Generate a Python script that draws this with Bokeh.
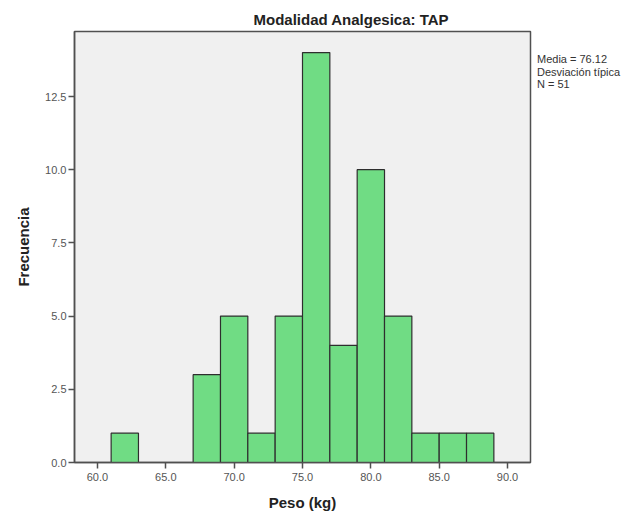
from bokeh.plotting import figure
from bokeh.models import Range1d, FixedTicker, NumeralTickFormatter, Div
from bokeh.layouts import row
from bokeh.embed import file_html
from bokeh.resources import INLINE

bin_left = [61, 63, 65, 67, 69, 71, 73, 75, 77, 79, 81, 83, 85, 87]
bin_right = [63, 65, 67, 69, 71, 73, 75, 77, 79, 81, 83, 85, 87, 89]
counts = [1, 0, 0, 3, 5, 1, 5, 14, 4, 10, 5, 1, 1, 1]
x_ticks = [60, 65, 70, 75, 80, 85, 90]
y_ticks = [0, 2.5, 5, 7.5, 10, 12.5]
title_text = "Modalidad Analgesica: TAP"
stats_lines = ["Media = 76.12", "Desviación típica", "N = 51"]

FONT = "Liberation Sans"

p = figure(width=537, height=519, output_backend="svg", toolbar_location=None,
           x_range=Range1d(58.32, 91.68), y_range=Range1d(0, 14.72),
           min_border_left=74, min_border_right=7, min_border_top=31, min_border_bottom=57,
           title=title_text)
p.background_fill_color = "#f0f0f0"
p.border_fill_color = "white"
p.outline_line_color = "#505050"
p.outline_line_width = 1.5
p.grid.visible = False

p.title.align = "left"
p.title.offset = 179
p.title.standoff = 8
p.title.text_font = FONT
p.title.text_font_size = "15px"
p.title.text_font_style = "bold"
p.title.text_color = "#222222"

bars = [(l, r, c) for l, r, c in zip(bin_left, bin_right, counts) if c > 0]
p.quad(left=[b[0] for b in bars], right=[b[1] for b in bars], bottom=0, top=[b[2] for b in bars],
       fill_color="#70dc84", line_color="#2e2e2e", line_width=1.2)

for ax in (p.xaxis[0], p.yaxis[0]):
    ax.major_label_text_font = FONT
    ax.major_label_text_font_size = "11px"
    ax.major_label_text_color = "#555555"
    ax.axis_label_text_font = FONT
    ax.axis_label_text_font_size = "15px"
    ax.axis_label_text_font_style = "bold"
    ax.axis_label_text_color = "#222222"
    ax.axis_line_color = "#505050"
    ax.axis_line_width = 1.5
    ax.major_tick_line_color = "#505050"
    ax.major_tick_line_width = 1.5
    ax.major_tick_out = 6
    ax.major_tick_in = 0
    ax.minor_tick_line_color = None

p.xaxis.ticker = FixedTicker(ticks=x_ticks)
p.yaxis.ticker = FixedTicker(ticks=y_ticks)
p.xaxis.formatter = NumeralTickFormatter(format="0.0")
p.yaxis.formatter = NumeralTickFormatter(format="0.0")
p.xaxis.axis_label = "Peso (kg)"
p.yaxis.axis_label = "Frecuencia"
p.xaxis.major_label_standoff = 4
p.yaxis.major_label_standoff = 2
p.xaxis.axis_label_standoff = 10
p.yaxis.axis_label_standoff = 10

stats_html = ("<div style=\"font-family:'Liberation Sans',Arial,sans-serif;font-size:11px;"
              "line-height:12.5px;color:#333333;white-space:nowrap;\">"
              + "<br>".join(stats_lines) + "</div>")
stats = Div(text=stats_html, width=107, height=60, margin=(53, 0, 0, 0))

layout = row(p, stats)
open("out.html", "w").write(file_html(layout, INLINE))
